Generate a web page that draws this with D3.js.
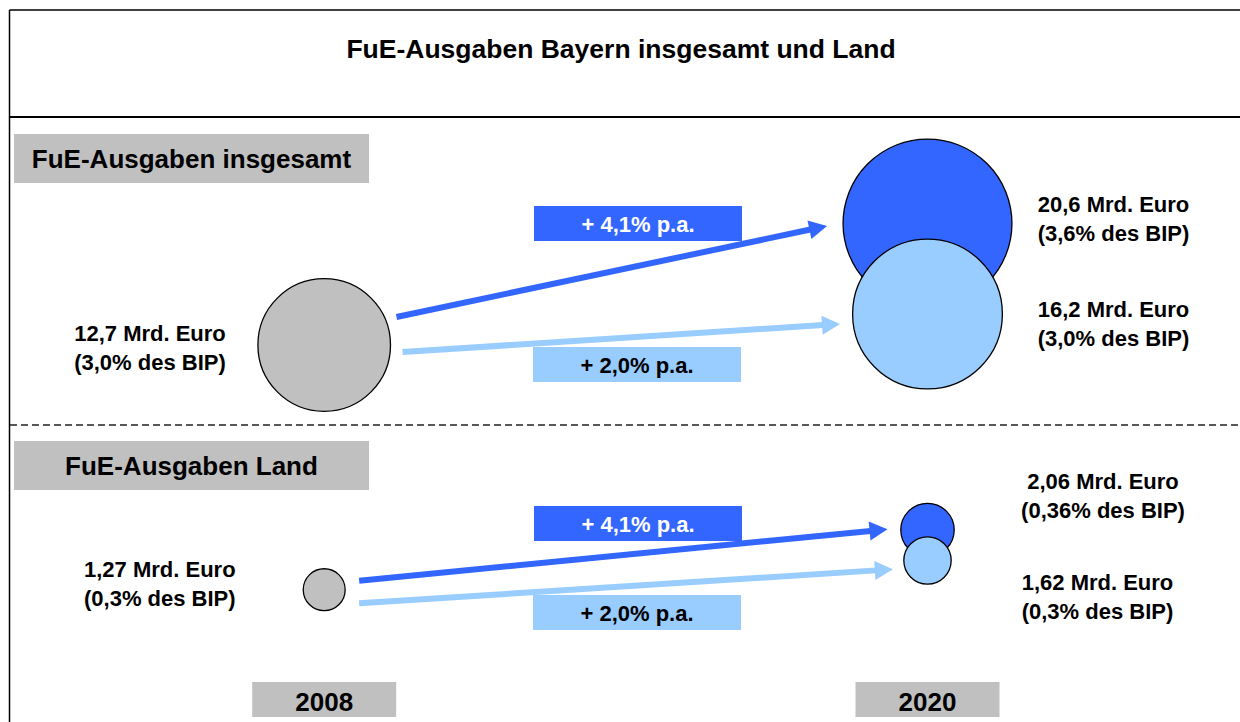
<!DOCTYPE html>
<html>
<head>
  <meta charset="utf-8">
  <title>FuE-Ausgaben Bayern insgesamt und Land</title>
  <script src="https://d3js.org/d3.v7.min.js"></script>
  <style>
    body { margin: 0; background: #fff; }
    svg text { font-family: "Liberation Sans", Arial, sans-serif; font-weight: bold; }
  </style>
</head>
<body>
<svg width="1240" height="722"></svg>
<script>

  // Data
  var years = ["2008", "2020"];
  var sectionNames = ["FuE-Ausgaben insgesamt", "FuE-Ausgaben Land"];
  var value2008 = [12.7, 1.27];
  var value2020High = [20.6, 2.06];
  var value2020Low = [16.2, 1.62];
  var share2008 = ["3,0%", "0,3%"];
  var share2020High = ["3,6%", "0,36%"];
  var share2020Low = ["3,0%", "0,3%"];
  var growthLabels = ["+ 4,1% p.a.", "+ 2,0% p.a."];

  var colHigh = "#3366FF", colLow = "#99CCFF", colGrey = "#C0C0C0";

  // layout of the two sections (positions only)
  var layout = [
    { box: 134, yStart: 345, yHigh: 223.5, yLow: 314,
      leftX: 150, leftY: 340.7, rightXHigh: 1113.5, rightYHigh: 212.3, rightXLow: 1113.5, rightYLow: 316.7,
      boxHigh: 206, boxLow: 347,
      arrHigh: {dy0: -28, dy1: 2.5, g0: 6, g1: 16}, arrLow: {dy0: 7, dy1: 10, g0: 12, g1: 12.6} },
    { box: 441, yStart: 589.7, yHigh: 530, yLow: 560.5,
      leftX: 159.8, leftY: 576.7, rightXHigh: 1103, rightYHigh: 489.3, rightXLow: 1097.5, rightYLow: 590,
      boxHigh: 506, boxLow: 595,
      arrHigh: {dy0: -9, dy1: -0.7, g0: 14, g1: 13.3}, arrLow: {dy0: 13.6, dy1: 8.8, g0: 14, g1: 11} }
  ];

  var svg = d3.select("svg");

  var x = d3.scalePoint().domain(years).range([324.2, 927.5]);
  var r = d3.scaleSqrt().domain([0, 12.7]).range([0, 66.3]);
  var fmt = function(v) { return String(v).replace(".", ",") + " Mrd. Euro"; };

  // frame
  svg.append("line").attr("x1", 9.5).attr("x2", 1240).attr("y1", 10).attr("y2", 10)
    .attr("stroke", "#000").attr("stroke-width", 1.5);
  svg.append("line").attr("x1", 9.5).attr("x2", 9.5).attr("y1", 10).attr("y2", 722)
    .attr("stroke", "#000").attr("stroke-width", 1.5);
  svg.append("line").attr("x1", 9.5).attr("x2", 1240).attr("y1", 117).attr("y2", 117)
    .attr("stroke", "#000").attr("stroke-width", 2);
  svg.append("line").attr("x1", 10).attr("x2", 1240).attr("y1", 425).attr("y2", 425)
    .attr("stroke", "#222").attr("stroke-width", 1.3).attr("stroke-dasharray", "7,4");

  svg.append("text").attr("x", 621).attr("y", 58).attr("text-anchor", "middle")
    .attr("font-size", 26.5).text("FuE-Ausgaben Bayern insgesamt und Land");

  function arrow(g, x0, y0, x1, y1, color) {
    var dx = x1 - x0, dy = y1 - y0, len = Math.sqrt(dx * dx + dy * dy);
    var ux = dx / len, uy = dy / len, hl = 18, hw = 9.5;
    var bx = x1 - ux * hl, by = y1 - uy * hl;
    g.append("line").attr("x1", x0).attr("y1", y0).attr("x2", bx + ux).attr("y2", by + uy)
      .attr("stroke", color).attr("stroke-width", 6);
    g.append("path")
      .attr("d", "M" + x1 + "," + y1 + "L" + (bx - uy * hw) + "," + (by + ux * hw) +
                 "L" + (bx + uy * hw) + "," + (by - ux * hw) + "Z")
      .attr("fill", color);
  }

  function twoLines(g, cx, y, l1, l2) {
    var t = g.append("text").attr("text-anchor", "middle").attr("font-size", 22);
    t.append("tspan").attr("x", cx).attr("y", y).text(l1);
    t.append("tspan").attr("x", cx).attr("y", y + 29).text(l2);
  }

  sectionNames.forEach(function(name, i) {
    var L = layout[i];
    var g = svg.append("g");

    // section header
    g.append("rect").attr("x", 14).attr("y", L.box).attr("width", 355).attr("height", 49).attr("fill", colGrey);
    g.append("text").attr("x", 191.5).attr("y", L.box + 33.5).attr("text-anchor", "middle")
      .attr("font-size", 26).text(name);

    var x0 = x(years[0]), x1 = x(years[1]);
    var r0 = r(value2008[i]), rH = r(value2020High[i]), rL = r(value2020Low[i]);

    // arrows
    var a = L.arrHigh;
    arrow(g, x0 + r0 + a.g0, L.yStart + a.dy0, x1 - rH - a.g1, L.yHigh + a.dy1, colHigh);
    a = L.arrLow;
    arrow(g, x0 + r0 + a.g0, L.yStart + a.dy0, x1 - rL - a.g1, L.yLow + a.dy1, colLow);

    // growth boxes
    g.append("rect").attr("x", 534).attr("y", L.boxHigh).attr("width", 208).attr("height", 35).attr("fill", colHigh);
    g.append("text").attr("x", 638).attr("y", L.boxHigh + 25.5).attr("text-anchor", "middle")
      .attr("font-size", 22).attr("fill", "#fff").text(growthLabels[0]);
    g.append("rect").attr("x", 533).attr("y", L.boxLow).attr("width", 208).attr("height", 35).attr("fill", colLow);
    g.append("text").attr("x", 637).attr("y", L.boxLow + 25.5).attr("text-anchor", "middle")
      .attr("font-size", 22).attr("fill", "#000").text(growthLabels[1]);

    // bubbles
    g.append("circle").attr("cx", x0).attr("cy", L.yStart).attr("r", r0)
      .attr("fill", colGrey).attr("stroke", "#000").attr("stroke-width", 1.3);
    g.append("circle").attr("cx", x1).attr("cy", L.yHigh).attr("r", rH)
      .attr("fill", colHigh).attr("stroke", "#000").attr("stroke-width", 1.3);
    g.append("circle").attr("cx", x1).attr("cy", L.yLow).attr("r", rL)
      .attr("fill", colLow).attr("stroke", "#000").attr("stroke-width", 1.3);

    // value labels
    twoLines(g, L.leftX, L.leftY, fmt(value2008[i]), "(" + share2008[i] + " des BIP)");
    twoLines(g, L.rightXHigh, L.rightYHigh, fmt(value2020High[i]), "(" + share2020High[i] + " des BIP)");
    twoLines(g, L.rightXLow, L.rightYLow, fmt(value2020Low[i]), "(" + share2020Low[i] + " des BIP)");
  });

  // year boxes
  years.forEach(function(yr) {
    svg.append("rect").attr("x", x(yr) - 72).attr("y", 682).attr("width", 144).attr("height", 35).attr("fill", colGrey);
    svg.append("text").attr("x", x(yr)).attr("y", 711).attr("text-anchor", "middle")
      .attr("font-size", 26).text(yr);
  });

</script>
</body>
</html>
